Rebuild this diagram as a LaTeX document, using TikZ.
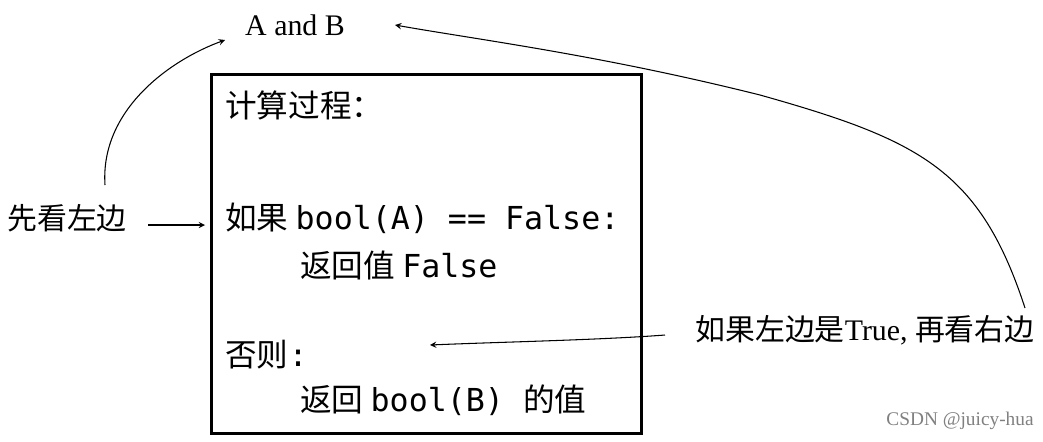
\documentclass[tikz,border=0pt]{standalone}
\usepackage{fontspec}
\setmainfont{Liberation Serif}
\newfontfamily\cjk{Noto Sans CJK SC}
\newfontfamily\codefont{DejaVu Sans Mono}
\usetikzlibrary{arrows}
\tikzstyle{note} = [inner sep=0pt, font=\fontsize{17}{19}\selectfont]
\tikzstyle{line} = [anchor=west, inner sep=0pt, font=\fontsize{18}{21}\selectfont]
\tikzstyle{arrow} = [semithick,->,>=stealth]

\begin{document}
\begin{tikzpicture}[x=0.02cm, y=-0.02cm]
        \useasboundingbox (0,0) rectangle (1043,441);
        \node (box) [draw, line width=1.5pt, minimum width=8.6cm, minimum height=7.18cm, anchor=north west] at (210,73) {};
        \node (ab) [note] at (295,25) {A and B};
        \node (title) [line] at (225,105) {\cjk 计算过程：};
        \node (if) [line] at (225,218) {\cjk 如果~\codefont bool(A) == False:};
        \node (ret1) [line] at (300,265) {\cjk 返回值~\codefont False};
        \node (else) [line] at (225,355) {\cjk 否则\codefont :};
        \node (ret2) [line] at (300,400) {\cjk 返回~\codefont bool(B)~\cjk 的值};
        \node (left) [note] at (67,218) {\cjk 先看左边};
        \node (right) [note] at (865,330) {\cjk 如果左边是\rmfamily True, \cjk 再看右边};
        \node (mark) [note, text=gray, font=\fontsize{11}{12}\selectfont] at (960,421) {CSDN @juicy-hua};
        \coordinate (leftin) at (205,225);
        \coordinate (elsein) at (430,345);
        \draw [arrow] (148,225) -- (leftin);
        \draw [arrow] (105,185) .. controls (100,110) and (170,60) .. (225,40);
        \draw [arrow] (665,335) .. controls (600,340) and (500,342) .. (elsein);
        \draw [arrow] (1025,308) .. controls (980,170) and (920,140) .. (760,95) .. controls (600,55) and (480,40) .. (395,25);
    \end{tikzpicture}
\end{document}
